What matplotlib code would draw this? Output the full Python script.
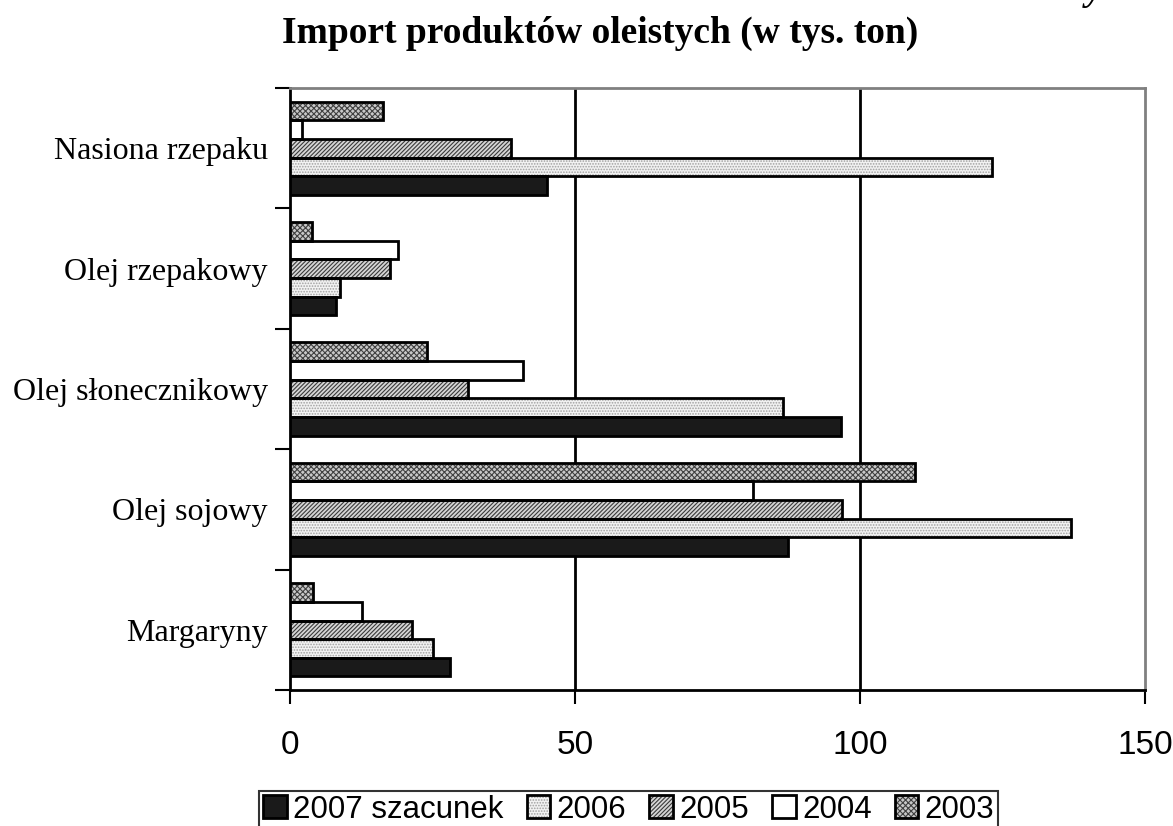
import numpy as np
import matplotlib
matplotlib.use("Agg")
from matplotlib import pyplot as plt
from matplotlib.ticker import FixedLocator

# dane (tys. ton)
categories = ["Margaryny", "Olej sojowy", "Olej słonecznikowy", "Olej rzepakowy", "Nasiona rzepaku"]
series_names = ["2007 szacunek", "2006", "2005", "2004", "2003"]
v2007 = [28.1, 87.3, 96.7, 8.1, 45.1]
v2006 = [25.1, 137.1, 86.5, 8.7, 123.2]
v2005 = [21.4, 96.8, 31.3, 17.6, 38.7]
v2004 = [12.6, 81.3, 40.8, 19.0, 2.1]
v2003 = [4.1, 109.7, 24.0, 3.9, 16.3]
x_ticks = [0, 50, 100, 150]

plt.rcParams['hatch.linewidth'] = 0.8

#fill patterns of the series (Excel-like): face, hatch, hatch colour
styles = [
    dict(face="#1a1a1a", hatch=None, hcolor="#1a1a1a"),
    dict(face="#f2f2f2", hatch="......", hcolor="#a0a0a0"),
    dict(face="#d6d6d6", hatch="////////", hcolor="#3a3a3a"),
    dict(face="white", hatch=None, hcolor="white"),
    dict(face="#c8c8c8", hatch="xxxxxx", hcolor="#404040"),
]

fig = plt.figure(figsize=(11.73, 8.26), dpi=100)
ax = fig.add_axes([0.2472, 0.1646, 0.9761 - 0.2472, 0.8935 - 0.1646])

y = np.arange(len(categories))
h = 0.155
values = [v2007, v2006, v2005, v2004, v2003]
handles = []
for i, (vals, st) in enumerate(zip(values, styles)):
    pos = y + (i - 2) * h
    #pattern first, then the black outline on top of it
    fill = ax.barh(pos, vals, height=h, facecolor=st["face"], hatch=st["hatch"],
                   edgecolor=st["hcolor"], linewidth=0, zorder=3)
    outline = ax.barh(pos, vals, height=h, fill=False, edgecolor="black",
                      linewidth=2, zorder=4)
    handles.append((fill, outline))

#grid lines at 50 and 100
for gx in x_ticks[1:-1]:
    ax.axvline(gx, color="black", linewidth=2, zorder=1)

ax.set_xlim(0, 150)
ax.set_ylim(-0.5, len(categories) - 0.5)

ax.set_xticks(x_ticks)
ax.set_xticklabels([str(t) for t in x_ticks], fontsize=24, family="Liberation Sans")
ax.tick_params(axis="x", direction="out", length=10, width=1.5, pad=19)

ax.yaxis.set_major_locator(FixedLocator(np.arange(-0.5, len(categories), 1.0)))
ax.yaxis.set_minor_locator(FixedLocator(y))
ax.set_yticklabels([], minor=False)
ax.set_yticklabels(categories, minor=True, fontsize=23, family="Liberation Serif")
ax.tick_params(axis="y", which="major", direction="out", length=11, width=1.5)
ax.tick_params(axis="y", which="minor", length=0, pad=16)

for side in ["left", "bottom"]:
    ax.spines[side].set_color("black")
    ax.spines[side].set_linewidth(2)
for side in ["top", "right"]:
    ax.spines[side].set_color("#808080")
    ax.spines[side].set_linewidth(2)

fig.text(0.512, 0.948, "Import produktów oleistych (w tys. ton)", ha="center",
         va="baseline", fontsize=27, fontweight="bold", family="Liberation Serif")
# fragment tekstu z poprzedniej strony
fig.text(0.933, 1.0, "y", ha="center", va="baseline", fontsize=27,
         fontweight="bold", style="italic", family="Liberation Serif")

leg = fig.legend(handles, series_names, loc="upper center", ncol=5,
                 bbox_to_anchor=(0.536, 1 - 791 / 826),
                 frameon=True, fancybox=False, edgecolor="black",
                 prop={"family": "Liberation Sans", "size": 22.5},
                 handlelength=0.75, handleheight=0.75, handletextpad=0.2,
                 columnspacing=0.75, borderpad=0.12, borderaxespad=0)
leg.get_frame().set_linewidth(1.5)

fig.savefig("out.png", dpi=100)
